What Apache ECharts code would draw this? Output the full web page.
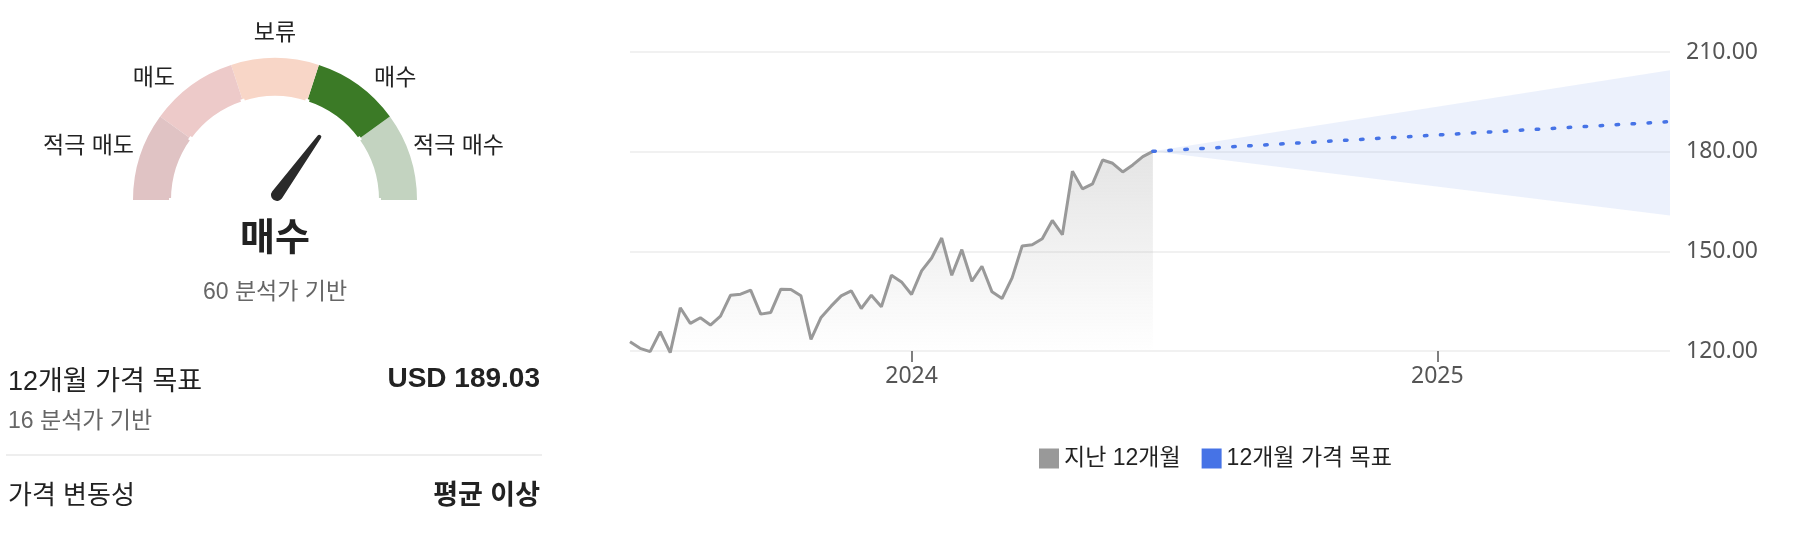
<!DOCTYPE html>
<html>
<head>
<meta charset="utf-8">
<script src="https://cdn.jsdelivr.net/npm/echarts@6/dist/echarts.min.js"></script>
<style>
  body { margin: 0; background: #fff; font-family: "Liberation Sans", "Noto Sans CJK KR", sans-serif; }
  #wrap { position: relative; width: 1804px; height: 536px; overflow: hidden; }
  #chart { position: absolute; left: 0; top: 0; width: 1804px; height: 536px; }
  .row { position: absolute; left: 8px; width: 532px; display: flex; justify-content: space-between; align-items: center; color: #222; }
  .row .lbl { font-size: 27px; }
  .row .lbl2 { font-size: 26px; }
  .row .val { font-size: 28px; font-weight: bold; }
  .row .val2 { font-size: 27px; font-weight: bold; }
  .sub { position: absolute; left: 8px; font-size: 23px; color: #666; }
  .line { position: absolute; left: 6px; width: 536px; height: 2px; background: #eeeeee; }
</style>
</head>
<body>
<div id="wrap">
  <div id="chart"></div>
  <div class="row" style="top:361px;height:34px"><span class="lbl">12개월 가격 목표</span><span class="val" id="target"></span></div>
  <div class="sub" style="top:405px;line-height:30px">16 분석가 기반</div>
  <div class="line" style="top:454px"></div>
  <div class="row" style="top:475px;height:34px"><span class="lbl2">가격 변동성</span><span class="val2">평균 이상</span></div>
</div>
<script>
// 애널리스트 등급 (게이지)
var ratingLabels = ["적극 매도", "매도", "보류", "매수", "적극 매수"];
var ratingColors = ["#e0c3c4", "#edcac9", "#f8d6c7", "#3b7a26", "#c3d3c0"];
var ratingScore = 70;
var analystCount = 60;

// 지난 12개월 주가 (주간)
var pastDates = [
  "2023-06-19", "2023-06-26", "2023-07-03", "2023-07-10", "2023-07-17", "2023-07-24", "2023-07-31",
  "2023-08-07", "2023-08-14", "2023-08-21", "2023-08-28", "2023-09-04", "2023-09-11", "2023-09-18",
  "2023-09-25", "2023-10-02", "2023-10-09", "2023-10-16", "2023-10-23", "2023-10-30", "2023-11-06",
  "2023-11-13", "2023-11-20", "2023-11-27", "2023-12-04", "2023-12-11", "2023-12-18", "2023-12-25",
  "2024-01-01", "2024-01-08", "2024-01-15", "2024-01-22", "2024-01-29", "2024-02-05", "2024-02-12",
  "2024-02-19", "2024-02-26", "2024-03-04", "2024-03-11", "2024-03-18", "2024-03-25", "2024-04-01",
  "2024-04-08", "2024-04-15", "2024-04-22", "2024-04-29", "2024-05-06", "2024-05-13", "2024-05-20",
  "2024-05-27", "2024-06-03", "2024-06-10", "2024-06-17"
];
var pastPrices = [
  122.8, 120.8, 119.8, 125.8, 119.5, 133.0, 128.3, 130.0, 127.8, 130.5, 136.8, 137.1, 138.3,
  131.1, 131.6, 138.6, 138.5, 136.6, 123.5, 130.1, 133.5, 136.6, 138.1, 132.8, 136.8, 133.3,
  142.8, 140.8, 137.0, 144.1, 148.0, 154.0, 142.8, 150.5, 141.0, 145.5, 137.8, 135.8, 142.0,
  151.6, 152.0, 153.8, 159.3, 155.0, 174.1, 168.8, 170.3, 177.5, 176.5, 173.9, 176.0, 178.5, 180.1
];

// 12개월 가격 목표
var forecastDates = ["2024-06-17", "2025-06-12"];
var targetPrices = [180.1, 189.03];
var highPrices = [180.1, 204.5];
var lowPrices = [180.1, 160.8];

var yearTicks = ["2024-01-01", "2025-01-01"];
var xMin = "2023-06-19";
var xMax = "2025-06-12";

document.getElementById("target").textContent = "USD " + targetPrices[1].toFixed(2);

var FONT = "'Liberation Sans', 'Noto Sans CJK KR', sans-serif";
var ts = function (d) { return +echarts.time.parse(d); };
var pairs = function (xs, ys) {
  return xs.map(function (x, i) { return [ts(x), ys[i]]; });
};

// 게이지 바깥 라벨 위치
var labelPos = [
  [134, 147, "right"],
  [175, 79, "right"],
  [275, 34, "center"],
  [374, 79, "left"],
  [413, 147, "left"]
];

var myChart = echarts.init(document.getElementById("chart"));
var option = {
  animation: false,
  textStyle: { fontFamily: FONT },
  grid: { left: 630, right: 134, top: 52, bottom: 185 },
  legend: {
    data: ["지난 12개월", "12개월 가격 목표"],
    left: 1034,
    top: 442,
    icon: "rect",
    itemWidth: 20,
    itemHeight: 20,
    itemGap: 21,
    textStyle: { fontSize: 23, color: "#222", fontFamily: FONT },
    selectedMode: false
  },
  xAxis: {
    type: "value",
    min: ts(xMin),
    max: ts(xMax),
    axisLine: { show: false },
    splitLine: { show: false },
    axisTick: {
      show: true,
      length: 11,
      customValues: yearTicks.map(ts),
      lineStyle: { color: "#555", width: 1.5 }
    },
    axisLabel: {
      customValues: yearTicks.map(ts),
      formatter: function (v) { return String(new Date(v).getFullYear()); },
      fontSize: 23,
      color: "#555",
      fontFamily: "'Noto Sans', sans-serif",
      margin: 14
    }
  },
  yAxis: {
    type: "value",
    position: "right",
    min: 120,
    max: 210,
    interval: 30,
    axisLine: { show: false },
    axisTick: { show: false },
    axisLabel: {
      formatter: function (v) { return v.toFixed(2); },
      fontSize: 23,
      color: "#555",
      margin: 16,
      fontFamily: "'Noto Sans', sans-serif"
    },
    splitLine: { lineStyle: { color: "#ececec", width: 1.5 } }
  },
  graphic: ratingLabels.map(function (t, i) {
    return {
      type: "text",
      x: labelPos[i][0],
      y: labelPos[i][1],
      silent: true,
      style: {
        text: t,
        fontSize: 23,
        fontFamily: FONT,
        fill: "#222",
        align: labelPos[i][2],
        verticalAlign: "middle"
      }
    };
  }),
  series: [
    {
      type: "gauge",
      silent: true,
      center: [275, 200],
      radius: 142,
      startAngle: 180,
      endAngle: 0,
      min: 0,
      max: 100,
      splitNumber: 5,
      axisLine: {
        lineStyle: {
          width: 38,
          color: ratingColors.map(function (c, i) { return [(i + 1) / ratingColors.length, c]; })
        }
      },
      splitLine: { show: true, distance: -2, length: 42, lineStyle: { color: "#fff", width: 4 } },
      axisTick: { show: false },
      axisLabel: { show: false },
      pointer: { show: false },
      anchor: { show: false },
      title: { show: false },
      detail: { show: false },
      data: [{ value: ratingScore }]
    },
    {
      type: "gauge",
      silent: true,
      center: [277, 195],
      radius: 142,
      startAngle: 180,
      endAngle: 0,
      min: 0,
      max: 100,
      axisLine: { show: false },
      splitLine: { show: false },
      axisTick: { show: false },
      axisLabel: { show: false },
      pointer: {
        icon: "path://M4,2 A2,2 0 0 1 8,2 L12,74 A6,6 0 0 1 0,74 Z",
        length: 80,
        width: 12,
        offsetCenter: [0, 6],
        itemStyle: { color: "#2a2a2a" }
      },
      anchor: { show: false },
      title: { offsetCenter: [-2, 98], fontSize: 23, color: "#666", fontFamily: FONT },
      detail: {
        offsetCenter: [-2, 45],
        fontSize: 38,
        fontWeight: "bold",
        color: "#222",
        fontFamily: FONT,
        formatter: function (v) {
          return ratingLabels[Math.min(ratingLabels.length - 1, Math.floor(v / 20))];
        }
      },
      data: [{ value: ratingScore, name: analystCount + " 분석가 기반" }]
    },
    {
      // 목표가 범위 (최고 ~ 최저)
      name: "range",
      type: "custom",
      silent: true,
      renderItem: function (params, api) {
        if (params.dataIndex !== 0) return;
        var pts = [];
        for (var i = 0; i < forecastDates.length; i++) {
          pts.push(api.coord([ts(forecastDates[i]), highPrices[i]]));
        }
        for (var j = forecastDates.length - 1; j >= 0; j--) {
          pts.push(api.coord([ts(forecastDates[j]), lowPrices[j]]));
        }
        return {
          type: "polygon",
          shape: { points: pts },
          style: { fill: "rgba(70, 115, 230, 0.1)" }
        };
      },
      data: pairs(forecastDates, highPrices)
    },
    {
      name: "지난 12개월",
      type: "line",
      symbol: "none",
      clip: false,
      itemStyle: { color: "#999" },
      lineStyle: { color: "#999", width: 3 },
      areaStyle: {
        color: new echarts.graphic.LinearGradient(0, 0, 0, 1, [
          { offset: 0, color: "rgba(150, 150, 150, 0.36)" },
          { offset: 1, color: "rgba(150, 150, 150, 0)" }
        ])
      },
      data: pairs(pastDates, pastPrices)
    },
    {
      name: "12개월 가격 목표",
      type: "line",
      symbol: "none",
      itemStyle: { color: "#4673e6" },
      lineStyle: { color: "#4673e6", width: 3.5, type: [2.5, 13.5], cap: "round" },
      data: pairs(forecastDates, targetPrices)
    }
  ]
};

option && myChart.setOption(option);
</script>
</body>
</html>
